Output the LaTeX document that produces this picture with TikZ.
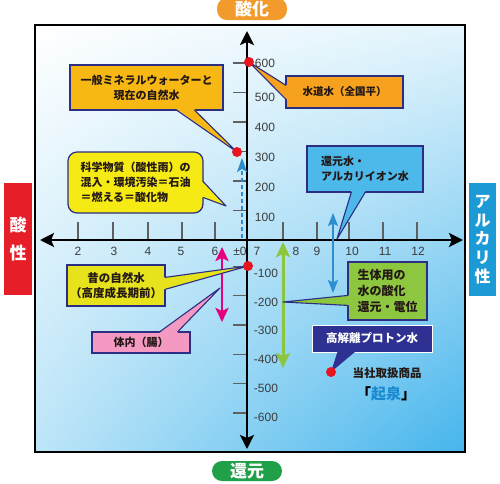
\documentclass[tikz,border=0pt]{standalone}
\usepackage{fontspec}
\setmainfont{Noto Sans CJK JP}
\newfontfamily\numfont{Liberation Sans}
\usetikzlibrary{calc,arrows.meta,shadings}
\definecolor{navy}{HTML}{2B2E83}
\definecolor{boxorange}{HTML}{F7A21E}
\definecolor{boxgold}{HTML}{F8B814}
\definecolor{boxyellow}{HTML}{F5EA14}
\definecolor{boxyellowb}{HTML}{E6E21C}
\definecolor{boxpink}{HTML}{F49AC2}
\definecolor{boxgreen}{HTML}{8DC63F}
\definecolor{boxblue}{HTML}{4DB8EA}
\definecolor{boxnavy}{HTML}{2E3192}
\definecolor{dotred}{HTML}{E8141E}
\definecolor{arrmag}{HTML}{E4007F}
\definecolor{arrgreen}{HTML}{8CC63E}
\definecolor{arrblue}{HTML}{2C8ECF}
\definecolor{pillorange}{HTML}{F39A2C}
\definecolor{pillgreen}{HTML}{1FA049}
\definecolor{sidered}{HTML}{E61E28}
\definecolor{sideblue}{HTML}{1C9AD6}
\definecolor{numgray}{HTML}{3C3C3C}
\definecolor{txtdark}{HTML}{231815}
\definecolor{bglr}{HTML}{45B5EC}
\definecolor{bgll}{HTML}{BDE5F8}
\definecolor{bgur}{HTML}{E3F4FC}
\definecolor{kisenblue}{HTML}{1A8AD0}
\begin{document}
\begin{tikzpicture}[x=1pt,y=-1pt,
  callout/.style={draw=navy,line width=1.2pt,inner sep=0pt,text=txtdark,
    font=\bfseries\fontsize{11}{15}\selectfont},
  tailedge/.style={draw=navy,line width=1.1pt,line join=round},
  reddot/.style={circle,fill=dotred,inner sep=0pt,minimum size=10pt},
  tickmark/.style={draw=gray!75!black,line width=1.4pt},
  num/.style={font=\numfont\fontsize{12}{12}\selectfont,text=numgray,inner sep=0pt},
  axisline/.style={line width=2.6pt,{Stealth[length=14pt,width=14pt,inset=3pt]}-{Stealth[length=14pt,width=14pt,inset=3pt]}},
  dblarrow/.style={line width=2.6pt,{Stealth[length=14pt,width=13pt,inset=3pt]}-{Stealth[length=14pt,width=13pt,inset=3pt]}},
  sidebox/.style={text=white,inner sep=0pt,align=center}
]
\useasboundingbox (0,0) rectangle (500,483);
\fill[white] (0,0) rectangle (500,483);
% background panel
\shade[upper left=white,upper right=bgur,lower left=bgll,lower right=bglr] (35,25) rectangle (465,452);
\draw[line width=2pt] (35,25) rectangle (465,452);

% pills and side labels
\node[fill=pillorange,rounded corners=10pt,minimum width=70pt,minimum height=22pt,sidebox,
  font=\bfseries\fontsize{17}{17}\selectfont] (acid) at (252,9) {酸化};
\node[fill=pillgreen,rounded corners=10pt,minimum width=70pt,minimum height=20pt,sidebox,
  font=\bfseries\fontsize{17}{17}\selectfont] (red) at (247,471) {還元};
\node[fill=sidered,minimum width=28pt,minimum height=112pt,sidebox,
  font=\bfseries\fontsize{17}{28}\selectfont] (acidic) at (18,239) {酸\\性};
\node[fill=sideblue,minimum width=27pt,minimum height=113pt,sidebox,
  font=\bfseries\fontsize{16}{18.7}\selectfont] (alk) at (482.5,239.5) {ア\\ル\\カ\\リ\\性};

% axes
\coordinate (xl) at (40,240);
\coordinate (xr) at (463,240);
\coordinate (yt) at (247,31);
\coordinate (yb) at (247,449);
% ticks
\foreach \x in {78,113,148,182,215,283,317,349,383,417}
  \draw[tickmark] (\x,222) -- (\x,239);
\foreach \k in {1,...,6}{
  \draw[tickmark] (233,240-29.5*\k) -- (247,240-29.5*\k);
  \draw[tickmark] (233,237+29.3*\k) -- (247,237+29.3*\k);
}
\draw[axisline] (xl) -- (xr);
\draw[axisline] (yt) -- (yb);

% tick labels
\foreach \v/\y in {600/63,500/97,400/127,300/157,200/187,100/217}
  \node[num] (p\v) at (265,\y) {\v};
\foreach \v/\y in {100/273,200/302,300/330,400/359,500/388,600/417}
  \node[num] (m\v) at (266,\y) {-\v};
\foreach \t/\x in {2/78,3/114,4/148,5/181,6/215,7/257,8/296,9/317,10/352,11/385,12/418}
  \node[num] (x\t) at (\x,251) {\t};
\node[num] (xzero) at (240,251) {±0};

% dots (positions)
\coordinate (d600) at (249,62);
\coordinate (dmin) at (237,152);
\coordinate (dold) at (248,266);
\coordinate (dkisen) at (331,372);

% arrows
\coordinate (dashlow) at (242,238);
\coordinate (dashtop) at (242,158);
\draw[arrblue,line width=1.5pt,dash pattern=on 4pt off 3pt,-{Stealth[length=14pt,width=10pt,inset=3pt]}] (dashlow) -- (dashtop);
\coordinate (magtop) at (222,247);
\coordinate (magbot) at (222,322);
\draw[arrmag,dblarrow] (magtop) -- (magbot);
\coordinate (grntop) at (283,242);
\coordinate (grnbot) at (283,368);
\draw[arrgreen,line width=3pt,{Stealth[length=15pt,width=14pt,inset=3pt]}-{Stealth[length=15pt,width=14pt,inset=3pt]}] (grntop) -- (grnbot);
\coordinate (blutop) at (333,213);
\coordinate (blubot) at (333,293);
\draw[arrblue,line width=2pt,{Stealth[length=13pt,width=10pt,inset=2.5pt]}-{Stealth[length=13pt,width=10pt,inset=2.5pt]}] (blutop) -- (blubot);

% callout boxes
\node[callout,fill=boxgold,minimum width=153pt,minimum height=45pt,align=center] (b1) at (146.5,87.5)
  {一般ミネラルウォーターと\\現在の自然水};
\node[callout,fill=boxyellow,rounded corners=9pt,minimum width=135pt,minimum height=61pt,align=left] (b2) at (135.5,182.5)
  {科学物質（酸性雨）の\\混入・環境汚染＝石油\\＝燃える＝酸化物};
\node[callout,fill=boxorange,minimum width=117pt,minimum height=32pt,align=center,
  font=\bfseries\fontsize{10.5}{14}\selectfont] (b3) at (344.5,92) {水道水（全国平）};
\node[callout,fill=boxblue,minimum width=116pt,minimum height=46pt,align=left] (b4) at (365,169)
  {還元水・\\アルカリイオン水};
\node[callout,fill=boxyellowb,minimum width=98pt,minimum height=41pt,align=center,
  font=\bfseries\fontsize{11.5}{15.5}\selectfont] (b5) at (116,285.5) {昔の自然水\\（高度成長期前）};
\node[callout,fill=boxpink,minimum width=98pt,minimum height=21pt,align=center] (b6) at (141,342.5) {体内（腸）};
\node[callout,fill=boxgreen,minimum width=79pt,minimum height=58pt,align=left,
  font=\bfseries\fontsize{12}{16}\selectfont] (b7) at (387.5,291) {生体用の\\水の酸化\\還元・電位};
\node[callout,draw=white,line width=0.8pt,fill=boxnavy,text=white,minimum width=120pt,minimum height=27pt,align=center,
  font=\bfseries\fontsize{11.5}{14}\selectfont] (b8) at (372,338.5) {高解離プロトン水};

% tail tips
\coordinate (t2) at (226,206);
\coordinate (t4) at (337,239);
\coordinate (t6) at (220,288);
\coordinate (t7) at (283,302);

% tails
\fill[boxgold] ($(b1.south west)+(107,-1.5)$) -- (dmin) -- ($(b1.south west)+(125,-1.5)$) -- cycle;
\draw[tailedge] ($(b1.south west)+(107,-0.6)$) -- (dmin) -- ($(b1.south west)+(125,-0.6)$);
\fill[boxyellow] ($(b2.north east)+(-1.5,30)$) -- (t2) -- ($(b2.north east)+(-1.5,46)$) -- cycle;
\draw[tailedge] ($(b2.north east)+(-0.6,30)$) -- (t2) -- ($(b2.north east)+(-0.6,46)$);
\fill[boxorange] ($(b3.north west)+(1.5,10)$) -- (d600) -- ($(b3.north west)+(1.5,24)$) -- cycle;
\draw[tailedge] ($(b3.north west)+(0.6,10)$) -- (d600) -- ($(b3.north west)+(0.6,24)$);
\fill[boxblue] ($(b4.south west)+(45,-1.5)$) -- (t4) -- ($(b4.south west)+(59,-1.5)$) -- cycle;
\draw[tailedge] ($(b4.south west)+(45,-0.6)$) -- (t4) -- ($(b4.south west)+(59,-0.6)$);
\fill[boxyellowb] ($(b5.north east)+(-1.5,13)$) -- (dold) -- ($(b5.north east)+(-1.5,25)$) -- cycle;
\draw[tailedge] ($(b5.north east)+(-0.6,13)$) -- (dold) -- ($(b5.north east)+(-0.6,25)$);
\fill[boxpink] ($(b6.north west)+(68,1.5)$) -- (t6) -- ($(b6.north west)+(86,1.5)$) -- cycle;
\draw[tailedge] ($(b6.north west)+(68,0.6)$) -- (t6) -- ($(b6.north west)+(86,0.6)$);
\fill[boxgreen] ($(b7.north west)+(1.5,34)$) -- (t7) -- ($(b7.north west)+(1.5,44)$) -- cycle;
\draw[tailedge] ($(b7.north west)+(0.6,34)$) -- (t7) -- ($(b7.north west)+(0.6,44)$);
\fill[boxnavy] ($(b8.south west)+(26,-1)$) -- (dkisen) -- ($(b8.south west)+(44,-1)$) -- cycle;

% red dots
\node[reddot] (n600) at (d600) {};
\node[reddot] (nmin) at (dmin) {};
\node[reddot] (nold) at (dold) {};
\node[reddot] (nkisen) at (dkisen) {};

% product text
\node[inner sep=0pt,text=txtdark,font=\bfseries\fontsize{11.5}{12}\selectfont] (prod) at (387,373) {当社取扱商品};
\node[inner sep=0pt,font=\bfseries\fontsize{15}{16}\selectfont] (kisen) at (386,394)
  {「\textcolor{kisenblue}{起泉}」};
\end{tikzpicture}
\end{document}
